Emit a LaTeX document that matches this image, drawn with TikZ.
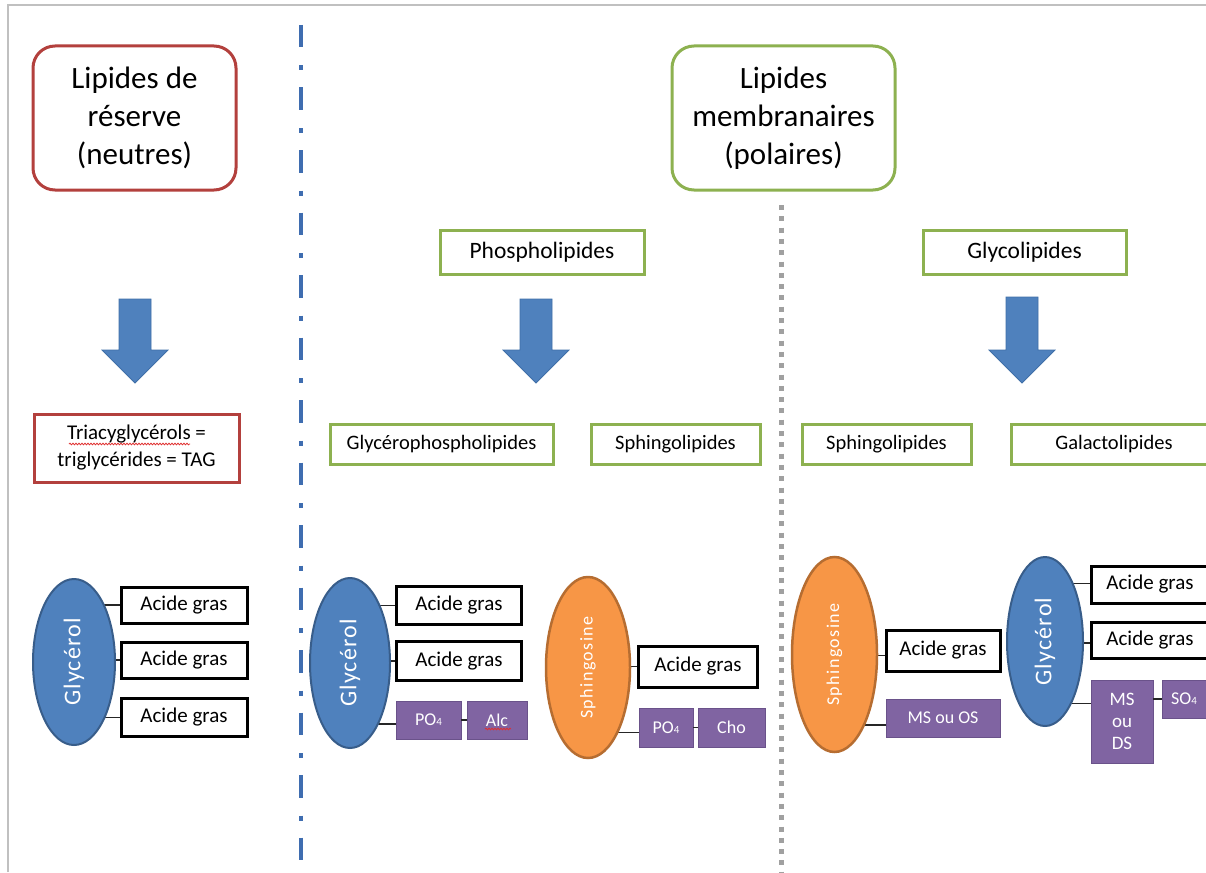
\documentclass[tikz,border=0pt]{standalone}
\usepackage{fontspec}
\setmainfont{Carlito}
\usetikzlibrary{shapes.geometric,decorations.pathmorphing}
\definecolor{lblue}{HTML}{4F81BD}
\definecolor{dblue}{HTML}{385D8A}
\definecolor{lineblue}{HTML}{3F6DB0}
\definecolor{lorange}{HTML}{F79646}
\definecolor{dorange}{HTML}{B66D31}
\definecolor{lpurple}{HTML}{8064A2}
\definecolor{dpurple}{HTML}{6A528A}
\definecolor{lgreen}{HTML}{8DB150}
\definecolor{lred}{HTML}{B3403D}
\definecolor{spellred}{HTML}{E03030}
\definecolor{framegray}{HTML}{C0C0C0}
\definecolor{dotgray}{HTML}{A0A0A0}
\definecolor{arrowedge}{HTML}{3F6FA8}
\pgfdeclarelayer{bg}
\pgfsetlayers{bg,main}
\newcommand\subfour{{\fontsize{11}{11}\selectfont 4}}
\begin{document}
\begin{tikzpicture}[x=1pt,y=-1pt,
  wh/.style 2 args={minimum width=#1, minimum height=#2},
  box/.style={draw, rectangle, inner sep=0pt, outer sep=0pt, align=center, fill=white},
  titlebox/.style={box, rounded corners=22pt, line width=3pt, font=\fontsize{31}{38}\selectfont},
  greenbox/.style={box, draw=lgreen, line width=3pt, font=\fontsize{20.5}{24}\selectfont},
  acidbox/.style={box, draw=black, line width=3pt, font=\fontsize{21}{24}\selectfont},
  purplebox/.style={box, draw=dpurple, fill=lpurple, line width=1pt, text=white, font=\fontsize{18}{22}\selectfont},
  glyell/.style={ellipse, draw=dblue, fill=lblue, line width=2pt, inner sep=0pt, outer sep=0pt},
  sphell/.style={ellipse, draw=dorange, fill=lorange, line width=2.5pt, inner sep=0pt, outer sep=0pt},
  glytext/.style={rotate=90, text=white, font=\fontsize{24}{24}\selectfont\addfontfeature{LetterSpace=5}},
  sphtext/.style={rotate=90, text=white, font=\fontsize{18}{18}\selectfont\addfontfeature{LetterSpace=8}},
  bigarrow/.style={fill=lblue, draw=arrowedge, line width=0.8pt},
  link/.style={draw=black!85, line width=1.2pt},
  spell/.style={draw=spellred, line width=0.8pt, decorate, decoration={snake, amplitude=0.8pt, segment length=3pt}}
]
\useasboundingbox (0,0) rectangle (1206,872);
\clip (0,0) rectangle (1206,872);
\begin{pgfonlayer}{bg}
\fill[white] (0,0) rectangle (1206,872);
\end{pgfonlayer}

% frame
\draw[framegray, line width=1.5pt] (8,872) -- (8,5) -- (1206,5);

% separators
\draw[lineblue, line width=4.5pt, dash pattern=on 22.5pt off 18pt on 5pt off 17pt] (301,25) -- (301,862);
\draw[dotgray, line width=5pt, dash pattern=on 5pt off 6.3pt] (781,205) -- (781,872);

% titles
\node[titlebox, draw=lred, wh={203}{144}] (res) at (134.5,118) {Lipides de\\réserve\\(neutres)};
\node[titlebox, draw=lgreen, wh={223}{144}] (mem) at (783.5,118) {Lipides\\membranaires\\(polaires)};

\node[greenbox, wh={204}{44}, font=\fontsize{23.5}{24}\selectfont] (phos) at (542,252) {Phospholipides};
\node[greenbox, wh={203}{44}, font=\fontsize{23.5}{24}\selectfont] (glyc) at (1024.5,252) {Glycolipides};

% block arrows
\foreach \cx/\yt in {135/299, 536/299, 1022/297}{
  \draw[bigarrow] (\cx-16,\yt) -- (\cx+16,\yt) -- (\cx+16,350) -- (\cx+33,350)
     -- (\cx,383) -- (\cx-33,350) -- (\cx-16,350) -- cycle;
}

% second row
\node[box, draw=lred, line width=3pt, wh={205}{68}, font=\fontsize{21}{27}\selectfont] (tag) at (136.5,448) {Triacyglycérols =\\triglycérides = TAG};
\node[greenbox, wh={223}{40}] (gpl) at (441.5,444) {Glycérophospholipides};
\node[greenbox, wh={169}{40}] (sph1) at (675.5,444) {Sphingolipides};
\node[greenbox, wh={169}{40}] (sph2) at (886.5,444) {Sphingolipides};
\node[greenbox, wh={206}{40}] (gal) at (1114,444) {Galactolipides};

% ---- left: triglyceride
\node[glyell, wh={82}{166}] (gly1) at (74,662) {};
\node[glytext] (gt1) at (gly1.center) {Glycérol};
\node[acidbox, wh={126}{36}] (a1) at (184,605) {Acide gras};
\node[acidbox, wh={126}{36}] (a2) at (184,660) {Acide gras};
\node[acidbox, wh={126}{38}] (a3) at (184,717.5) {Acide gras};

% ---- glycerophospholipid
\node[glyell, wh={80}{170}] (gly2) at (350,663) {};
\node[glytext] (gt2) at (gly2.center) {Glycérol};
\node[acidbox, wh={125}{38}] (b1) at (459,605.5) {Acide gras};
\node[acidbox, wh={125}{39}] (b2) at (459,661) {Acide gras};
\node[purplebox, wh={65}{38}] (po1) at (428.5,720) {PO\subfour};
\node[purplebox, wh={60}{38}] (alc) at (497,720) {Alc};

% ---- sphingophospholipid
\node[sphell, wh={84}{181}] (sp1) at (588,667.5) {};
\node[sphtext] (st1) at (sp1.center) {Sphingosine};
\node[acidbox, wh={119}{41}] (c1) at (698,666.5) {Acide gras};
\node[purplebox, wh={54}{39}] (po2) at (666,727.5) {PO\subfour};
\node[purplebox, wh={67}{39}] (cho) at (731.5,727.5) {Cho};

% ---- glycosphingolipid
\node[sphell, wh={85}{195}] (sp2) at (834.5,654.5) {};
\node[sphtext] (st2) at (sp2.center) {Sphingosine};
\node[acidbox, wh={114}{41}] (d1) at (943,650.5) {Acide gras};
\node[purplebox, wh={114}{38}] (ms1) at (943,718) {MS ou OS};

% ---- galactolipid
\node[glyell, wh={76}{169}] (gly3) at (1045,641.5) {};
\node[glytext] (gt3) at (gly3.center) {Glycérol};
\node[acidbox, wh={118}{37}] (e1) at (1150,584.5) {Acide gras};
\node[acidbox, wh={118}{36}] (e2) at (1150,640) {Acide gras};
\node[purplebox, wh={62}{83}, font=\fontsize{19}{22}\selectfont] (msds) at (1122,721.5) {MS\\ou\\DS};
\node[purplebox, wh={44}{38}] (so4) at (1184,699) {SO\subfour};

% connector end points
\coordinate (kpo1) at ([yshift=-4pt]po1.west);
\coordinate (kpo2) at ([yshift=-5pt]po2.west);
\coordinate (kd1) at ([yshift=-5pt]d1.west);
\coordinate (kms1) at ([yshift=-7pt]ms1.west);
\coordinate (ke1) at ([yshift=1pt]e1.west);
\coordinate (ke2) at ([yshift=-3pt]e2.west);
\coordinate (kmsds) at ([yshift=18pt]msds.west);

% connectors (behind the ellipses)
\begin{pgfonlayer}{bg}
\draw[link] (gly1.center |- a1.west) -- (a1.west);
\draw[link] (gly1.center |- a2.west) -- (a2.west);
\draw[link] (gly1.center |- a3.west) -- (a3.west);
\draw[link] (gly2.center |- b1.west) -- (b1.west);
\draw[link] (gly2.center |- b2.west) -- (b2.west);
\draw[link] (gly2.center |- kpo1) -- (kpo1);
\draw[link] (sp1.center |- c1.west) -- (c1.west);
\draw[link] (sp1.center |- kpo2) -- (kpo2);
\draw[link] (sp2.center |- kd1) -- (kd1);
\draw[link] (sp2.center |- kms1) -- (kms1);
\draw[link] (gly3.center |- ke1) -- (ke1);
\draw[link] (gly3.center |- ke2) -- (ke2);
\draw[link] (gly3.center |- kmsds) -- (kmsds);
\end{pgfonlayer}
\draw[link] (po1.east) -- (alc.west);
\draw[link] (po2.east) -- (cho.west);
\draw[link] (msds.east |- so4.west) -- (so4.west);

% spell-check underlines
\draw[spell] (69,444) -- (190,444);
\draw[spell] (485,729) -- (511,729);
\end{tikzpicture}
\end{document}
